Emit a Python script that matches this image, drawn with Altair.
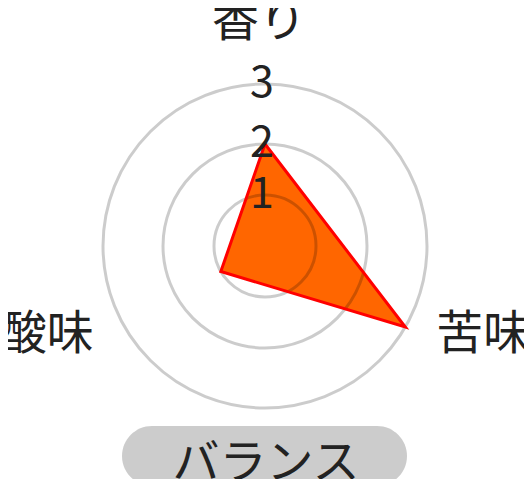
import altair as alt
import pandas as pd

# ---- data ----
axes = ["香り", "苦味", "酸味"]
values = [2, 3, 1]
tick_values = [1, 2, 3]
footer_label = "バランス"

FONT = "Noto Sans CJK JP"
W, H = 516, 471

# radius expression (px) for a value on the 0..3 scale
R_EXPR = "datum.v <= 2 ? 51 * datum.v : 102 + 60 * (datum.v - 2)"

poly = pd.DataFrame({"axis": axes, "v": values, "idx": list(range(len(axes)))})
poly_closed = pd.concat([poly, poly.iloc[[0]].assign(idx=len(axes))], ignore_index=True)
poly_closed["ang_i"] = list(range(len(axes))) + [0]

rings = pd.DataFrame({"v": tick_values, "label": [str(t) for t in tick_values]})
labels = pd.DataFrame({"axis": axes, "i": list(range(len(axes)))})
footer = pd.DataFrame({"t": [footer_label]})

xs = alt.Scale(domain=[-257, 259], nice=False, zero=False)
ys = alt.Scale(domain=[-233, 238], nice=False, zero=False)
X = lambda f: alt.X(f, type="quantitative", scale=xs, axis=None)
Y = lambda f: alt.Y(f, type="quantitative", scale=ys, axis=None)

n = len(axes)
base_poly = (
    alt.Chart(poly_closed)
    .transform_calculate(r=R_EXPR)
    .transform_calculate(a=f"PI/2 - datum.ang_i * 2 * PI / {n}")
    .transform_calculate(px="datum.r * cos(datum.a)", py="datum.r * sin(datum.a)")
)

poly_fill = base_poly.mark_line(
    fill="#FF6600", stroke="#FF6600", strokeWidth=0, fillOpacity=1
).encode(x=X("px"), y=Y("py"), order=alt.Order("idx:Q"))

poly_stroke = base_poly.mark_line(
    stroke="#FF0000", strokeWidth=3, strokeJoin="miter"
).encode(x=X("px"), y=Y("py"), order=alt.Order("idx:Q"))

ring_layer = (
    alt.Chart(rings)
    .transform_calculate(r=R_EXPR)
    .transform_calculate(size="pow(2 * datum.r, 2)", cx="0", cy="0")
    .mark_point(shape="circle", filled=False, stroke="black", strokeOpacity=0.2,
                strokeWidth=3, opacity=1)
    .encode(x=X("cx"), y=Y("cy"), size=alt.Size("size:Q", scale=None, legend=None))
)

tick_text = (
    alt.Chart(rings)
    .transform_calculate(r=R_EXPR)
    .transform_calculate(tx="0", ty="datum.r")
    .mark_text(font=FONT, fontSize=43, color="#222222", baseline="middle", align="center", dx=-3)
    .encode(x=X("tx"), y=Y("ty"), text="label:N")
)

axis_text = (
    alt.Chart(labels)
    .transform_calculate(a=f"PI/2 - datum.i * 2 * PI / {n}")
    .transform_calculate(
        lx="abs(cos(datum.a)) < 0.1 ? -6 : 252 * cos(datum.a)",
        ly="sin(datum.a) > 0.9 ? 224 : 178 * sin(datum.a)",
    )
    .mark_text(font=FONT, fontSize=47, color="#222222", baseline="middle", align="center")
    .encode(x=X("lx"), y=Y("ly"), text="axis:N")
)

pill = (
    alt.Chart(footer)
    .mark_rect(color="#cccccc", cornerRadius=30)
    .encode(x=alt.value(114), x2=alt.value(399), y=alt.value(418), y2=alt.value(478))
)
pill_text = (
    alt.Chart(footer)
    .mark_text(font=FONT, fontSize=47, color="#222222", baseline="middle", align="center")
    .encode(x=alt.value(258), y=alt.value(456), text="t:N")
)

chart = (
    alt.layer(poly_fill, ring_layer, poly_stroke, tick_text, axis_text, pill, pill_text)
    .properties(width=W, height=H, padding=0, autosize=alt.AutoSizeParams(type="none"))
    .configure_view(stroke=None)
)

chart.save("out.html", embed_options={"renderer": "svg", "actions": False})
